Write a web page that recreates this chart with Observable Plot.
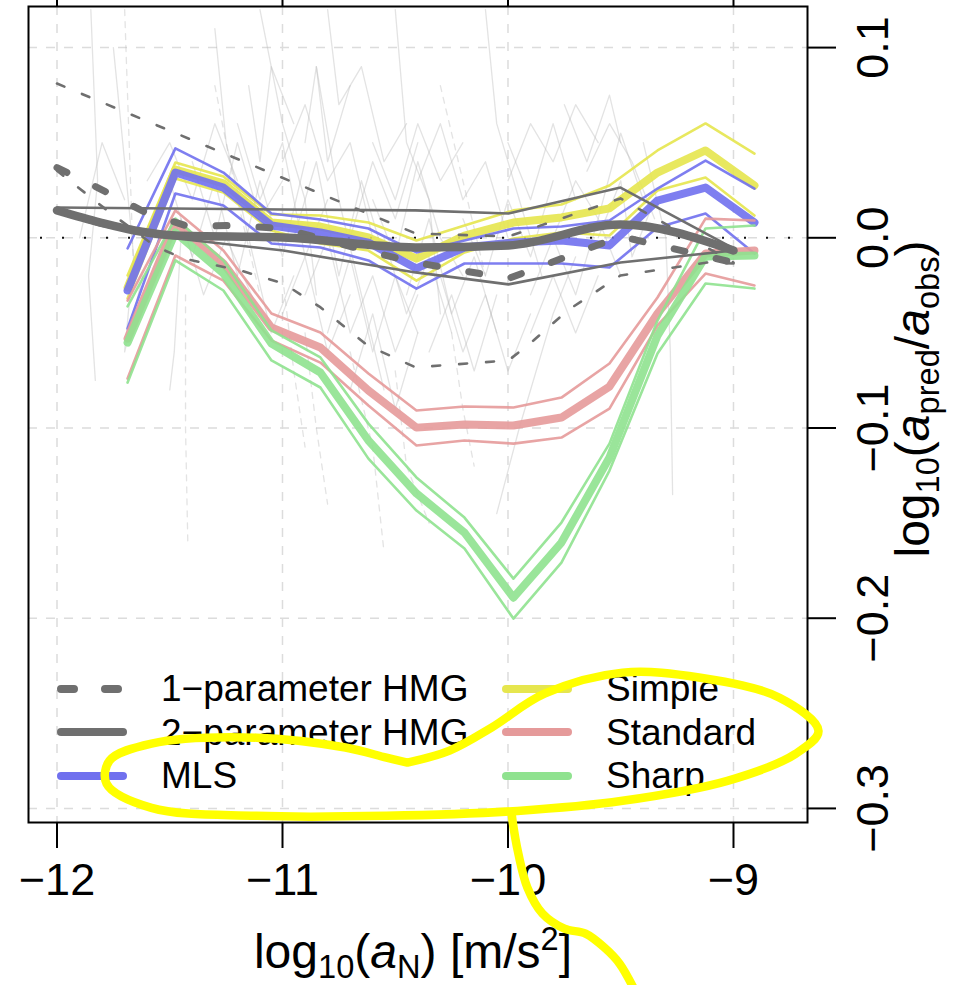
<!DOCTYPE html>
<html>
<head>
<meta charset="utf-8">
<script src="https://cdn.jsdelivr.net/npm/d3@7"></script>
<script src="https://cdn.jsdelivr.net/npm/@observablehq/plot@0.6"></script>
<style>
html, body { margin: 0; padding: 0; background: #fff; }
#wrap { position: relative; width: 961px; height: 985px; overflow: hidden; font-family: "Liberation Sans", Arial, sans-serif; color: #000; }
#wrap > svg { position: absolute; left: 0; top: 0; }
#legend { position: absolute; left: 57px; top: 667px; display: grid; grid-template-columns: 445px auto; grid-auto-rows: 43.5px; font-size: 37px; line-height: 43.5px; }
.item { display: flex; align-items: center; white-space: nowrap; }
.item svg { width: 70px; height: 14px; margin-right: 34px; flex: none; overflow: visible; }
.xtitle { position: absolute; left: 0; width: 826px; top: 928px; text-align: center; font-size: 48px; line-height: 48px; white-space: nowrap; }
.ytitle { position: absolute; left: 913px; top: 399px; transform: translate(-50%, -50%) rotate(-90deg); font-size: 48px; line-height: 48px; white-space: nowrap; }
sub, sup { font-size: 0.68em; line-height: 0; }
sub { vertical-align: -0.3em; }
sup { vertical-align: 0.55em; }
</style>
</head>
<body>
<div id="wrap"></div>
<script>
// ---------- ticks ----------
const xTicks = [-12, -11, -10, -9];
const yTicks = [0.1, 0, -0.1, -0.2, -0.3];

// ---------- binned model residuals (x = log10 aN bins) ----------
const anBins = [-11.687, -11.475, -11.262, -11.049, -10.832, -10.619, -10.406, -10.193, -9.976, -9.763, -9.550, -9.337, -9.124, -8.907];

const simpleHi  = [-0.0198, 0.0396, 0.0322, 0.0123, 0.0117, 0.0080, -0.0014, 0.0065, 0.0144, 0.0175, 0.0275, 0.0459, 0.0601, 0.0443];
const simpleMid = [-0.0261, 0.0359, 0.0286, 0.0080, 0.0059, 0.0002, -0.0109, 0.0012, 0.0080, 0.0107, 0.0155, 0.0343, 0.0459, 0.0275];
const simpleLo  = [-0.0319, 0.0312, 0.0238, 0.0038, -0.0030, -0.0067, -0.0225, -0.0077, -0.0004, 0.0028, 0.0012, 0.0249, 0.0317, 0.0117];

const mlsHi  = [-0.0056, 0.0470, 0.0343, 0.0128, 0.0096, 0.0049, -0.0077, -0.0014, 0.0049, 0.0059, 0.0091, 0.0259, 0.0406, 0.0259];
const mlsMid = [-0.0277, 0.0343, 0.0264, 0.0065, 0.0028, -0.0025, -0.0161, -0.0051, -0.0025, -0.0014, -0.0040, 0.0196, 0.0264, 0.0080];
const mlsLo  = [-0.0477, 0.0233, 0.0170, -0.0030, -0.0051, -0.0119, -0.0267, -0.0135, -0.0135, -0.0135, -0.0156, 0.0054, 0.0128, -0.0083];

const standardHi  = [-0.0330, 0.0144, -0.0067, -0.0398, -0.0498, -0.0713, -0.0908, -0.0887, -0.0892, -0.0840, -0.0661, -0.0314, 0.0101, 0.0091];
const standardMid = [-0.0530, 0.0080, -0.0135, -0.0472, -0.0577, -0.0803, -0.0998, -0.0982, -0.0987, -0.0945, -0.0782, -0.0398, -0.0083, -0.0067];
const standardLo  = [-0.0740, -0.0093, -0.0225, -0.0540, -0.0656, -0.0882, -0.1092, -0.1066, -0.1082, -0.1050, -0.0898, -0.0461, -0.0188, -0.0251];

const sharpHi  = [-0.0361, 0.0101, -0.0119, -0.0487, -0.0629, -0.0977, -0.1260, -0.1471, -0.1792, -0.1497, -0.1082, -0.0435, 0.0049, 0.0065];
const sharpMid = [-0.0551, 0.0028, -0.0188, -0.0556, -0.0708, -0.1066, -0.1344, -0.1550, -0.1892, -0.1602, -0.1155, -0.0514, -0.0098, -0.0093];
const sharpLo  = [-0.0761, -0.0119, -0.0277, -0.0645, -0.0787, -0.1161, -0.1434, -0.1634, -0.2002, -0.1708, -0.1224, -0.0608, -0.0240, -0.0267];

// ---------- HMG curves: [log10 aN, residual] ----------
const hmg1Mid = [[-12,0.0369],[-11.785,0.0243],[-11.608,0.0133],[-11.417,0.0059],[-11.222,0.0065],[-10.996,0.0049],[-10.632,-0.0067],[-10.41,-0.0130],[-9.998,-0.0214],[-9.501,0.0007],[-9.0,-0.0130]];
const hmg1Hi  = [[-12,0.0811],[-10.41,0.0023],[-9.998,0.0007],[-9.501,0.0207],[-9.0,-0.0130]];
const hmg1Lo  = [[-12,0.0353],[-11.771,0.0138],[-11.563,-0.0046],[-11.439,-0.0109],[-11.186,-0.0172],[-10.996,-0.0240],[-10.831,-0.0366],[-10.623,-0.0566],[-10.41,-0.0681],[-9.998,-0.0645],[-9.887,-0.0540],[-9.736,-0.0382],[-9.501,-0.0198],[-9.115,-0.0130],[-9.0,-0.0135]];
const hmg2Mid = [[-12,0.0144],[-11.807,0.0080],[-11.63,0.0033],[-11.475,0.0012],[-10.996,0.0002],[-10.41,-0.0051],[-9.998,-0.0040],[-9.501,0.0070],[-9.0,-0.0067]];
const hmg2Hi  = [[-12,0.0159],[-10.996,0.0149],[-10.41,0.0144],[-9.998,0.0128],[-9.501,0.0264],[-9.0,-0.0056]];
const hmg2Lo  = [[-12,0.0133],[-11.807,0.0065],[-11.585,0.0012],[-10.996,-0.0067],[-10.41,-0.0182],[-9.998,-0.0245],[-9.501,-0.0130],[-9.0,-0.0067]];

// ---------- individual galaxies (faint background) ----------
const galaxySolid = [
  [[-11.85,0.12],[-11.82,0.03],[-11.86,-0.02],[-11.83,-0.075]],
  [[-11.75,0.10],[-11.7,0.04],[-11.66,-0.01],[-11.7,-0.06],[-11.62,-0.02]],
  [[-11.6,0.03],[-11.5,0.05],[-11.4,0.02],[-11.3,0.06],[-11.2,0.03]],
  [[-11.55,-0.02],[-11.45,0.01],[-11.35,-0.03],[-11.25,0.0],[-11.1,-0.04]],
  [[-11.3,0.11],[-11.25,0.05],[-11.15,0.0],[-11.05,-0.05],[-10.95,-0.02]],
  [[-11.1,0.12],[-11.0,0.06],[-10.9,0.02],[-10.85,-0.03]],
  [[-11.0,0.04],[-10.9,0.07],[-10.8,0.03],[-10.7,0.05],[-10.6,0.0]],
  [[-10.9,-0.03],[-10.8,0.0],[-10.7,-0.05],[-10.6,-0.02],[-10.5,-0.06],[-10.4,-0.03]],
  [[-10.8,0.12],[-10.75,0.07],[-10.65,0.09],[-10.55,0.04],[-10.45,0.06]],
  [[-10.7,-0.08],[-10.6,-0.04],[-10.5,-0.09],[-10.4,-0.05]],
  [[-10.5,0.12],[-10.45,0.05],[-10.35,0.02],[-10.3,-0.04]],
  [[-10.4,0.03],[-10.3,0.06],[-10.2,0.02],[-10.1,0.04],[-10.0,0.0]],
  [[-10.3,-0.02],[-10.2,-0.06],[-10.1,-0.03],[-10.0,-0.07],[-9.9,-0.04]],
  [[-10.1,0.12],[-10.05,0.06],[-9.95,0.02],[-9.85,-0.02]],
  [[-10.0,0.03],[-9.9,0.06],[-9.8,0.04],[-9.7,0.07],[-9.6,0.05]],
  [[-9.8,0.0],[-9.7,0.03],[-9.6,0.01],[-9.5,0.055],[-9.4,0.02]],
  [[-9.65,0.035],[-9.55,0.06],[-9.45,0.04],[-9.35,0.01]],
  [[-9.4,0.05],[-9.3,0.0],[-9.28,-0.06],[-9.27,-0.135]],
  [[-10.05,-0.145],[-9.95,-0.1],[-9.8,-0.04],[-9.7,-0.01]],
  [[-11.45,0.0],[-11.48,-0.06],[-11.5,-0.08]],
  [[-11.2,-0.02],[-11.1,0.03],[-11.0,-0.01],[-10.9,0.04]],
  [[-10.6,0.02],[-10.5,-0.01],[-10.4,0.04],[-10.3,0.0],[-10.2,-0.02]],
  [[-9.9,-0.05],[-9.8,-0.02],[-9.7,-0.05],[-9.6,-0.02]],
  [[-11.9,0.0],[-11.8,0.05],[-11.7,0.02]],
  [[-10.85,0.09],[-10.75,0.02],[-10.65,-0.03],[-10.55,-0.08]],
  [[-11.4,0.04],[-11.3,0.0],[-11.2,0.05],[-11.1,0.01],[-11.0,0.03]],
  [[-11.2,0.06],[-11.1,0.02],[-11.0,0.05],[-10.9,-0.01],[-10.8,0.02]],
  [[-10.95,0.0],[-10.85,0.04],[-10.75,-0.02],[-10.65,0.03],[-10.55,-0.01]],
  [[-10.8,-0.05],[-10.7,-0.01],[-10.6,-0.06],[-10.5,-0.02],[-10.4,-0.05]],
  [[-10.6,0.05],[-10.5,0.02],[-10.4,0.06],[-10.3,0.03],[-10.2,0.05]],
  [[-10.45,-0.03],[-10.35,0.01],[-10.25,-0.04],[-10.15,-0.01],[-10.05,-0.05]],
  [[-10.2,0.01],[-10.1,-0.02],[-10.0,0.02],[-9.9,-0.01],[-9.8,0.03]],
  [[-10.0,0.05],[-9.9,0.02],[-9.8,0.06],[-9.7,0.02]],
  [[-9.9,-0.03],[-9.8,0.0],[-9.7,-0.03],[-9.6,0.01],[-9.5,-0.02]],
  [[-11.5,0.03],[-11.4,-0.01],[-11.3,0.03],[-11.2,-0.02]],
  [[-11.0,-0.04],[-10.9,-0.01],[-10.8,-0.06],[-10.7,-0.03]],
  [[-10.7,0.0],[-10.6,0.04],[-10.5,0.01],[-10.4,0.05]],
  [[-10.35,-0.06],[-10.25,-0.03],[-10.15,-0.07],[-10.05,-0.03]],
  [[-9.75,0.07],[-9.65,0.04],[-9.55,0.075],[-9.5,0.05]],
  [[-9.6,0.0],[-9.5,0.03],[-9.45,-0.01],[-9.35,0.02]],
  [[-10.9,0.05],[-10.85,0.09],[-10.8,0.04],[-10.7,0.08]],
  [[-11.15,0.08],[-11.1,0.04],[-11.05,0.09],[-10.95,0.06]],
  [[-10.55,0.0],[-10.45,-0.04],[-10.35,-0.01],[-10.25,-0.05]]
];
const galaxyDashed = [
  [[-11.43,-0.03],[-11.43,-0.1],[-11.42,-0.16]],
  [[-10.9,-0.05],[-10.85,-0.1],[-10.8,-0.14]],
  [[-10.7,-0.06],[-10.6,-0.11],[-10.55,-0.165]],
  [[-10.5,-0.07],[-10.45,-0.12],[-10.35,-0.15]],
  [[-11.3,0.08],[-11.2,0.02],[-11.1,-0.03]],
  [[-10.3,0.08],[-10.2,0.03],[-10.1,-0.02]],
  [[-11.7,0.12],[-11.68,0.05],[-11.66,-0.02]],
  [[-11.0,-0.02],[-10.95,-0.07],[-10.9,-0.11]],
  [[-10.25,-0.05],[-10.2,-0.09],[-10.15,-0.12]]
];

// ---------- hand-drawn yellow annotation ----------
const annotLoop = [[-10.446,-0.2759],[-10.259,-0.2696],[-10.073,-0.2575],[-9.838,-0.2397],[-9.492,-0.2286],[-9.146,-0.2313],[-8.796,-0.2418],[-8.623,-0.2592],[-8.725,-0.2713],[-9.027,-0.2855],[-9.492,-0.2960],[-9.958,-0.3013],[-10.539,-0.3039],[-11.115,-0.3039],[-11.581,-0.2997],[-11.780,-0.2870],[-11.767,-0.2749],[-11.581,-0.2659],[-11.115,-0.2628],[-10.721,-0.2680],[-10.539,-0.2733],[-10.446,-0.2759]];
const annotTail = [[-9.984,-0.3022],[-9.980,-0.3064],[-9.954,-0.3238],[-9.914,-0.3416],[-9.847,-0.3553],[-9.750,-0.3632],[-9.656,-0.3658],[-9.572,-0.3732],[-9.505,-0.3816],[-9.426,-0.3985]];

// ---------- colours ----------
const colGrey = "#6f6f6f", colMLS = "#7070ee", colSimple = "#e6e64e", colStandard = "#e59a9a", colSharp = "#8fe28f";

// ---------- helpers ----------
const binned = arr => anBins.map((x, i) => ({x, y: arr[i]}));
const pairs = arr => arr.map(([x, y]) => ({x, y}));
const groups = list => list.flatMap((line, id) => line.map(([x, y]) => ({id, x, y})));
const fmtX = d => (d < 0 ? "\u2212" + Math.abs(d) : String(d));
const fmtY = d3.format(".1f");

const xDomain = [-12.1264, -8.6718];
const yDomain = [-0.3074, 0.1216];
const frameOpts = {width: 961, height: 985, marginLeft: 28, marginRight: 154, marginTop: 6, marginBottom: 163};

function band(hi, mid, lo, color) {
  return [
    Plot.line(binned(hi), {x: "x", y: "y", stroke: color, strokeWidth: 2.6, strokeOpacity: 0.9, strokeLinejoin: "round"}),
    Plot.line(binned(lo), {x: "x", y: "y", stroke: color, strokeWidth: 2.6, strokeOpacity: 0.9, strokeLinejoin: "round"}),
    Plot.line(binned(mid), {x: "x", y: "y", stroke: color, strokeWidth: 8, strokeOpacity: 0.9, strokeLinejoin: "round", strokeLinecap: "round"})
  ];
}

const main = Plot.plot({
  ...frameOpts,
  x: {domain: xDomain},
  y: {domain: yDomain},
  style: {fontFamily: "Liberation Sans, Arial, sans-serif", fontSize: "45px", color: "black", background: "transparent", overflow: "visible"},
  marks: [
    Plot.gridX(xTicks, {stroke: "#dcdcdc", strokeOpacity: 1, strokeWidth: 1.5, strokeDasharray: "9,9"}),
    Plot.gridY(yTicks, {stroke: "#dcdcdc", strokeOpacity: 1, strokeWidth: 1.5, strokeDasharray: "9,9"}),
    Plot.line(groups(galaxySolid), {x: "x", y: "y", z: "id", stroke: "#b8b8b8", strokeOpacity: 0.4, strokeWidth: 1.3}),
    Plot.line(groups(galaxyDashed), {x: "x", y: "y", z: "id", stroke: "#b8b8b8", strokeOpacity: 0.4, strokeWidth: 1.3, strokeDasharray: "6,6"}),
    Plot.ruleY([0], {stroke: "#111", strokeWidth: 2, strokeDasharray: "2,20", strokeDashoffset: -12}),
    ...band(simpleHi, simpleMid, simpleLo, colSimple),
    ...band(mlsHi, mlsMid, mlsLo, colMLS),
    ...band(standardHi, standardMid, standardLo, colStandard),
    ...band(sharpHi, sharpMid, sharpLo, colSharp),
    Plot.line(pairs(hmg1Hi), {x: "x", y: "y", stroke: colGrey, strokeWidth: 2.6, strokeDasharray: "8,19", strokeLinecap: "round"}),
    Plot.line(pairs(hmg1Lo), {x: "x", y: "y", stroke: colGrey, strokeWidth: 2.6, strokeDasharray: "8,19", strokeLinecap: "round"}),
    Plot.line(pairs(hmg1Mid), {x: "x", y: "y", stroke: colGrey, strokeWidth: 7, strokeDasharray: "11,32", strokeLinecap: "round"}),
    Plot.line(pairs(hmg2Hi), {x: "x", y: "y", stroke: colGrey, strokeWidth: 2.6, strokeLinejoin: "round"}),
    Plot.line(pairs(hmg2Lo), {x: "x", y: "y", stroke: colGrey, strokeWidth: 2.6, strokeLinejoin: "round"}),
    Plot.line(pairs(hmg2Mid), {x: "x", y: "y", stroke: colGrey, strokeWidth: 8.5, strokeLinejoin: "round", strokeLinecap: "round", curve: "monotone-x"}),
    Plot.frame({stroke: "black", strokeWidth: 2}),
    Plot.axisX(xTicks, {anchor: "bottom", tickSize: 26, tickPadding: 15, tickFormat: fmtX, strokeWidth: 2, fontSize: 45, label: null}),
    Plot.axisX(xTicks, {anchor: "top", tickSize: 20, tickFormat: () => "", strokeWidth: 2, label: null}),
    Plot.axisY(yTicks, {anchor: "right", tickSize: 28, tickFormat: () => "", strokeWidth: 2, label: null}),
    Plot.text(yTicks, {y: d => d, text: d => fmtY(d), frameAnchor: "right", dx: 66, rotate: -90, textAnchor: "middle", lineAnchor: "middle", fontSize: 45})
  ]
});

const annot = Plot.plot({
  ...frameOpts,
  x: {domain: xDomain, axis: null},
  y: {domain: yDomain, axis: null},
  style: {background: "transparent", overflow: "visible"},
  marks: [
    Plot.line(pairs(annotLoop), {x: "x", y: "y", stroke: "#ffff00", strokeWidth: 8.5, curve: "catmull-rom", strokeLinecap: "round", strokeLinejoin: "round"}),
    Plot.line(pairs(annotTail), {x: "x", y: "y", stroke: "#ffff00", strokeWidth: 8.5, curve: "catmull-rom", strokeLinecap: "round"})
  ]
});

// ---------- legend ----------
const legendItems = [
  {label: "1\u2212parameter HMG", color: colGrey, dash: "13,31"},
  {label: "Simple", color: colSimple, dash: null},
  {label: "2\u2212parameter HMG", color: colGrey, dash: null},
  {label: "Standard", color: colStandard, dash: null},
  {label: "MLS", color: colMLS, dash: null},
  {label: "Sharp", color: colSharp, dash: null}
];

const wrap = document.getElementById("wrap");
wrap.appendChild(main);

const legend = document.createElement("div");
legend.id = "legend";
for (const it of legendItems) {
  const d = document.createElement("div");
  d.className = "item";
  d.innerHTML = `<svg viewBox="0 0 70 14"><line x1="4" y1="7" x2="66" y2="7" stroke="${it.color}" stroke-width="8" stroke-linecap="round" ${it.dash ? `stroke-dasharray="${it.dash}"` : ""}/></svg><span></span>`;
  d.querySelector("span").textContent = it.label;
  legend.appendChild(d);
}
wrap.appendChild(legend);

const xt = document.createElement("div");
xt.className = "xtitle";
xt.innerHTML = "log<sub>10</sub>(<i>a</i><sub>N</sub>) [m/s<sup>2</sup>]";
wrap.appendChild(xt);

const yt = document.createElement("div");
yt.className = "ytitle";
yt.innerHTML = "log<sub>10</sub>(<i>a</i><sub>pred</sub>/<i>a</i><sub>obs</sub>)";
wrap.appendChild(yt);

wrap.appendChild(annot);
</script>
</body>
</html>
